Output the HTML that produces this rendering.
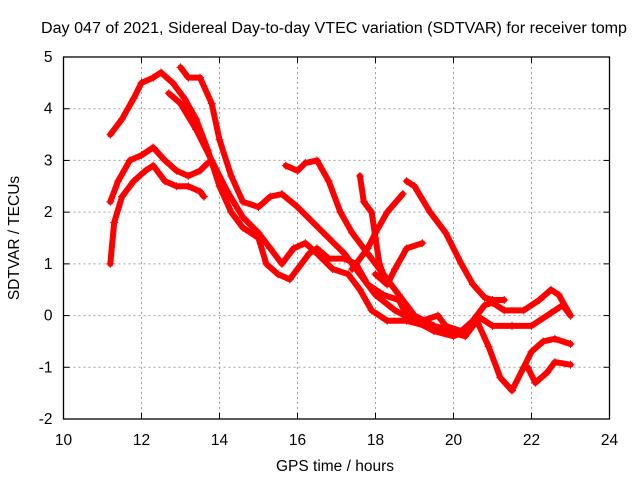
<!DOCTYPE html>
<html><head><meta charset="utf-8"><style>
body{margin:0;background:#fff;}
svg{display:block;font-family:"Liberation Sans",sans-serif;}
</style></head><body>
<svg id="chart" width="640" height="480">
<text x="41" y="33" font-size="15.5" textLength="586" lengthAdjust="spacingAndGlyphs">Day 047 of 2021, Sidereal Day-to-day VTEC variation (SDTVAR) for receiver tomp</text>
<text x="335" y="471" text-anchor="middle" font-size="15.5">GPS time / hours</text>
<text transform="translate(19,238) rotate(-90)" text-anchor="middle" font-size="15.5">SDTVAR / TECUs</text>
<g id="grid"></g><g id="series"></g><g id="axes"></g>
</svg>
<script>
const xTicks=[10,12,14,16,18,20,22,24];
const yTicks=[-2,-1,0,1,2,3,4,5];
const trackA=[[11.2,1.0],[11.3,1.8],[11.5,2.3],[11.8,2.6],[12.1,2.8],[12.3,2.9],[12.6,2.6],[12.9,2.5],[13.2,2.5],[13.5,2.4],[13.6,2.3]];
const trackB=[[11.2,2.2],[11.4,2.6],[11.7,3.0],[12.0,3.1],[12.3,3.25],[12.6,3.0],[12.9,2.8],[13.2,2.7],[13.5,2.8],[13.7,2.95]];
const trackC=[[11.2,3.5],[11.5,3.8],[11.8,4.2],[12.0,4.5],[12.3,4.6],[12.5,4.7],[12.8,4.5],[13.1,4.2],[13.4,3.8],[13.7,3.2],[14.0,2.5],[14.3,2.0],[14.6,1.7],[15.0,1.5],[15.2,1.0],[15.5,0.8],[15.8,0.7],[16.0,0.9],[16.3,1.2],[16.5,1.3],[16.8,1.1],[17.2,1.1],[17.5,1.0],[17.8,0.6],[18.2,0.4],[18.6,0.3],[18.8,0.0],[19.2,-0.1],[19.6,0.0],[19.8,-0.2],[20.2,-0.3],[20.5,-0.1],[20.8,0.2],[21.0,0.25],[21.3,0.1],[21.8,0.1],[22.2,0.3],[22.5,0.5],[22.7,0.4],[23.0,0.0]];
const trackE=[[13.0,4.8],[13.2,4.6],[13.5,4.6],[13.8,4.1],[14.0,3.4],[14.3,2.7],[14.6,2.2],[15.0,2.1],[15.3,2.3],[15.6,2.35],[16.0,2.1],[16.4,1.8],[16.8,1.5],[17.2,1.2],[17.5,0.9],[17.8,0.6],[18.0,0.4],[18.5,0.1],[19.0,-0.1],[19.5,-0.3],[20.0,-0.4],[20.3,-0.3],[20.6,0.0],[21.0,-0.2],[21.5,-0.2],[22.0,-0.2],[22.5,0.05],[22.8,0.2],[23.0,0.0]];
const trackF=[[12.7,4.3],[13.0,4.1],[13.4,3.6],[13.8,3.0],[14.2,2.4],[14.6,1.9],[15.0,1.6],[15.3,1.3],[15.6,1.0],[15.9,1.3],[16.2,1.4],[16.5,1.2],[16.9,0.9],[17.3,0.8],[17.6,0.5],[17.9,0.1],[18.3,-0.1],[18.8,-0.1],[19.3,-0.2],[19.8,-0.3],[20.3,-0.4],[20.6,-0.1],[20.9,-0.6],[21.2,-1.2],[21.5,-1.45],[21.8,-1.0],[22.0,-0.7],[22.3,-0.5],[22.6,-0.45],[23.0,-0.55]];
const trackM1=[[15.7,2.9],[16.0,2.8],[16.2,2.95],[16.5,3.0],[16.8,2.6],[17.1,2.0],[17.4,1.6],[17.8,1.2],[18.2,0.8],[18.6,0.4],[19.0,0.0],[19.5,-0.2],[20.0,-0.3]];
const trackM2=[[17.6,2.7],[17.7,2.2],[17.9,2.0],[18.0,1.5],[18.1,1.0],[18.2,0.8]];
const trackM3=[[17.4,0.9],[17.8,1.3],[18.0,1.6],[18.3,2.0],[18.7,2.35]];
const trackM4=[[18.0,0.8],[18.3,0.6],[18.5,0.9],[18.8,1.3],[19.2,1.4]];
const trackM5=[[18.8,2.6],[19.0,2.5],[19.4,2.0],[19.8,1.6],[20.2,1.0],[20.5,0.6],[20.8,0.35],[21.0,0.3],[21.3,0.3]];
const trackR4=[[21.9,-1.0],[22.1,-1.3],[22.4,-1.1],[22.6,-0.9],[23.0,-0.95]];
const tracks=[trackA,trackB,trackC,trackE,trackF,trackM1,trackM2,trackM3,trackM4,trackM5,trackR4];

const L=63.5,R=609.5,T=57,B=419;
const sx=v=>L+(v-10)/14*(R-L);
const sy=v=>B-(v+2)/7*(B-T);
const NS="http://www.w3.org/2000/svg";
function mk(tag,parent,attrs){const e=document.createElementNS(NS,tag);for(const k in attrs)e.setAttribute(k,attrs[k]);parent.appendChild(e);return e;}
const grid=document.getElementById('grid'),axes=document.getElementById('axes'),ser=document.getElementById('series');
xTicks.forEach(t=>{
 const x=sx(t);
 if(t>10&&t<24){const g=mk('line',grid,{x1:x,x2:x,y1:T,y2:B,stroke:'#a0a0a0','stroke-dasharray':'2,3'});
 
 }
 mk('line',axes,{x1:x,x2:x,y1:B,y2:B-6,stroke:'#000'});
 mk('line',axes,{x1:x,x2:x,y1:T,y2:T+6,stroke:'#000'});
 const lb=mk('text',axes,{x:x,y:B+26,'text-anchor':'middle','font-size':'15.5'});lb.textContent=t;
 
 
});
yTicks.forEach(t=>{
 const y=sy(t);
 if(t>-2&&t<5){const g=mk('line',grid,{x1:L,x2:R,y1:y,y2:y,stroke:'#a0a0a0','stroke-dasharray':'2,3'});
 
 }
 mk('line',axes,{x1:L,x2:L+6,y1:y,y2:y,stroke:'#000'});
 mk('line',axes,{x1:R,x2:R-6,y1:y,y2:y,stroke:'#000'});
 const lb=mk('text',axes,{x:L-11,y:y+5,'text-anchor':'end','font-size':'15.5'});lb.textContent=t;
 
 
});
const fr=mk('rect',axes,{x:L,y:T,width:R-L,height:B-T,fill:'none',stroke:'#000','stroke-width':1.3});


tracks.forEach((tr,i)=>{
 const g=mk('g',ser,{});
 
 
 mk('polyline',g,{points:tr.map(p=>sx(p[0])+','+sy(p[1])).join(' '),fill:'none',stroke:'#ff0000','stroke-width':6,'stroke-linejoin':'round','stroke-linecap':'round'});
 tr.forEach(p=>{const x=sx(p[0]),y=sy(p[1]);
  mk('path',g,{d:`M${x-4},${y}H${x+4}M${x},${y-4}V${y+4}`,stroke:'#ff0000','stroke-width':1});});
});
</script>
</body></html>
